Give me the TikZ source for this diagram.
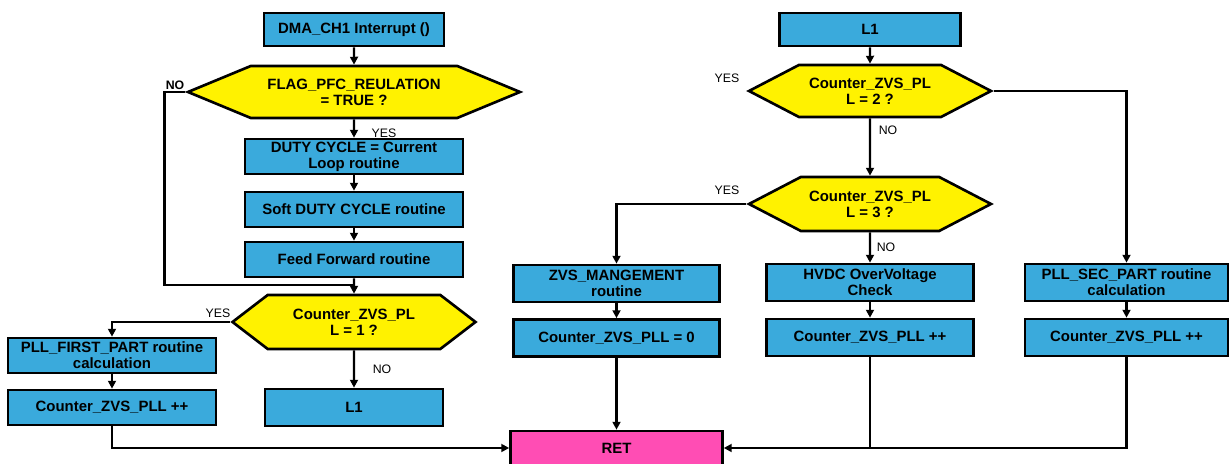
\documentclass[tikz,border=0pt]{standalone}
\usepackage{fontspec}
\setmainfont{Liberation Sans}
\usetikzlibrary{shapes.symbols, arrows.meta}

\definecolor{procblue}{RGB}{58,170,220}
\definecolor{retpink}{RGB}{255,77,180}

\begin{document}
\begin{tikzpicture}[
        font=\fontsize{8.5}{9.2}\selectfont\bfseries,
        box/.style={draw, line width=1.5pt, align=center, inner sep=1pt},
        proc/.style={box, fill=procblue},
        decision/.style={box, fill=yellow, signal, signal to=west and east},
        ret box/.style={box, fill=retpink},
        lbl/.style={font=\fontsize{7}{8}\selectfont},
        arr/.style={line width=1.3pt, -{Triangle[length=4.5pt,width=4.5pt]}},
        wire/.style={line width=1.3pt}
    ]
        \useasboundingbox (0,0) rectangle (24.64,9.28);

        % left column
        \node[proc, minimum width=3.6cm, minimum height=0.66cm] (dma) at (7.08, 8.69) {DMA\_CH1 Interrupt ()};
        \node[decision, minimum width=6.64cm, minimum height=1.04cm, signal pointer angle=45] (flag) at (7.08, 7.44) {FLAG\_PFC\_REULATION\\= TRUE ?};
        \node[proc, minimum width=4.36cm, minimum height=0.7cm] (duty) at (7.08, 6.15) {DUTY CYCLE = Current\\Loop routine};
        \node[proc, minimum width=4.36cm, minimum height=0.7cm] (soft) at (7.08, 5.09) {Soft DUTY CYCLE routine};
        \node[proc, minimum width=4.36cm, minimum height=0.7cm] (feed) at (7.08, 4.09) {Feed Forward routine};
        \node[decision, minimum width=4.86cm, minimum height=1.08cm, signal pointer angle=75] (cnt1) at (7.08, 2.84) {Counter\_ZVS\_PL\\L = 1 ?};
        \node[proc, minimum width=4.16cm, minimum height=0.7cm] (pllf) at (2.24, 2.17) {PLL\_FIRST\_PART routine\\calculation};
        \node[proc, minimum width=4.16cm, minimum height=0.7cm] (incl) at (2.24, 1.13) {Counter\_ZVS\_PLL ++};
        \node[proc, minimum width=3.56cm, minimum height=0.74cm] (l1a) at (7.08, 1.13) {L1};

        \node[ret box, minimum width=4.24cm, minimum height=0.68cm] (ret) at (12.33, 0.32) {RET};

        % right column
        \node[proc, minimum width=3.62cm, minimum height=0.66cm] (l1b) at (17.4, 8.69) {L1};
        \node[decision, minimum width=4.84cm, minimum height=1.04cm, signal pointer angle=55] (cnt2) at (17.4, 7.46) {Counter\_ZVS\_PL\\L = 2 ?};
        \node[decision, minimum width=4.84cm, minimum height=1.08cm, signal pointer angle=55] (cnt3) at (17.4, 5.2) {Counter\_ZVS\_PL\\L = 3 ?};
        \node[proc, minimum width=4.12cm, minimum height=0.74cm] (zvs) at (12.33, 3.61) {ZVS\_MANGEMENT\\routine};
        \node[proc, minimum width=4.12cm, minimum height=0.74cm] (zero) at (12.33, 2.52) {Counter\_ZVS\_PLL = 0};
        \node[proc, minimum width=4.14cm, minimum height=0.74cm] (hvdc) at (17.4, 3.63) {HVDC OverVoltage\\Check};
        \node[proc, minimum width=4.14cm, minimum height=0.74cm] (incm) at (17.4, 2.53) {Counter\_ZVS\_PLL ++};
        \node[proc, minimum width=4.06cm, minimum height=0.74cm] (pllsec) at (22.53, 3.63) {PLL\_SEC\_PART routine\\calculation};
        \node[proc, minimum width=4.06cm, minimum height=0.74cm] (incr) at (22.53, 2.53) {Counter\_ZVS\_PLL ++};

        % branch labels
        \node[lbl, font=\fontsize{7}{8}\selectfont\bfseries] (noflag) at (3.5, 7.58) {NO};
        \node[lbl] (yesflag) at (7.68, 6.62) {YES};
        \node[lbl] (yes1) at (4.36, 3.02) {YES};
        \node[lbl] (no1) at (7.64, 1.9) {NO};
        \node[lbl] (yes2) at (14.54, 7.72) {YES};
        \node[lbl] (no2) at (17.76, 6.68) {NO};
        \node[lbl] (yes3) at (14.54, 5.48) {YES};
        \node[lbl] (no3) at (17.72, 4.34) {NO};

        \coordinate (mergeL) at (7.08, 3.58);

        \draw[arr] (dma) -- (flag);
        \draw[arr] (flag) -- (duty);
        \draw[arr] (duty) -- (soft);
        \draw[arr] (soft) -- (feed);
        \draw[arr] (feed) -- (cnt1);
        \draw[wire] (flag.west) -- ++(-0.4,0) |- (mergeL);
        \draw[arr] (cnt1.west) -| (pllf.north);
        \draw[arr] (cnt1) -- (l1a);
        \draw[arr] (pllf) -- (incl);
        \draw[arr] (incl.south) |- (ret.west);

        \draw[arr] (l1b) -- (cnt2);
        \draw[arr] (cnt2) -- (cnt3);
        \draw[arr] (cnt2.east) -| (pllsec.north);
        \draw[arr] (cnt3.west) -| (zvs.north);
        \draw[arr] (cnt3) -- (hvdc);
        \draw[arr] (zvs) -- (zero);
        \draw[arr] (hvdc) -- (incm);
        \draw[arr] (pllsec) -- (incr);
        \draw[arr] (zero) -- (ret);
        \draw[arr] (incr.south) |- (ret.east);
        \draw[wire] (incm.south) -- (incm.south |- ret.east);
    \end{tikzpicture}
\end{document}
